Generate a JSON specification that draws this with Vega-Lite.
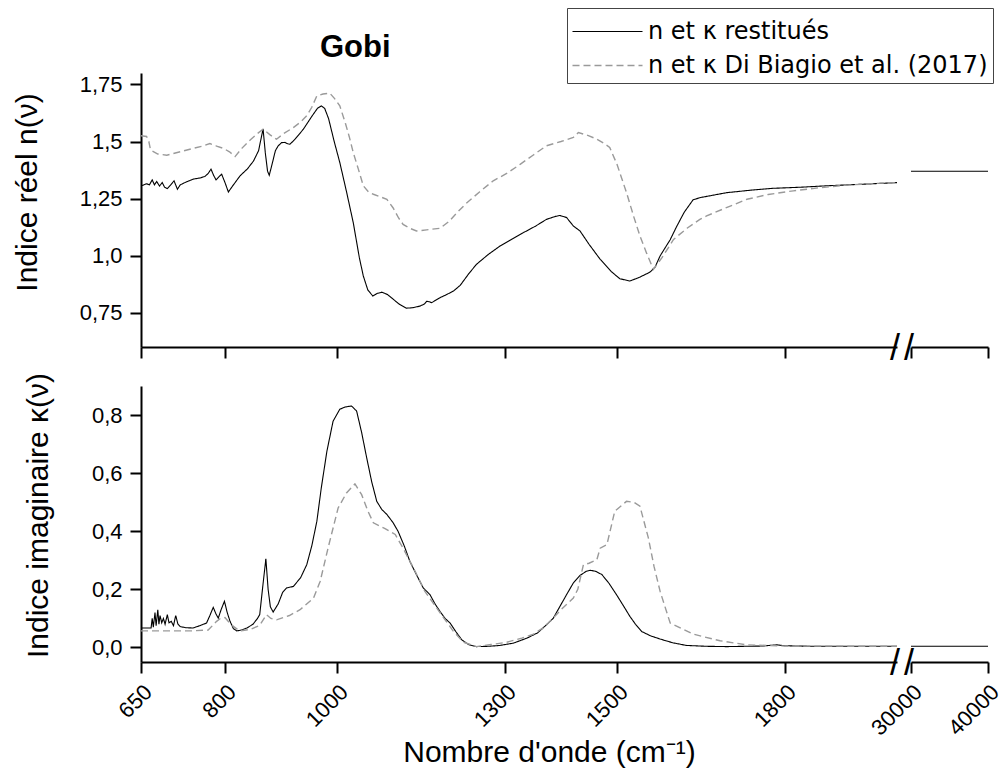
{
  "$schema": "https://vega.github.io/schema/vega-lite/v6.json",
  "padding": {"left": 12, "top": 7, "right": 5, "bottom": 5},
  "background": "white",
  "bounds": "flush",
  "columns": 2,
  "spacing": {"row": 39, "column": 14},
  "datasets": {
    "nLeft": [
      {"x":650,"y":1.306,"s":"n et κ restitués"},{"x":655,"y":1.31,"s":"n et κ restitués"},{"x":660,"y":1.315,"s":"n et κ restitués"},{"x":665,"y":1.31,"s":"n et κ restitués"},{"x":670,"y":1.332,"s":"n et κ restitués"},{"x":674,"y":1.31,"s":"n et κ restitués"},{"x":678,"y":1.325,"s":"n et κ restitués"},{"x":683,"y":1.305,"s":"n et κ restitués"},{"x":688,"y":1.32,"s":"n et κ restitués"},{"x":692,"y":1.3,"s":"n et κ restitués"},{"x":697,"y":1.294,"s":"n et κ restitués"},{"x":703,"y":1.31,"s":"n et κ restitués"},{"x":709,"y":1.328,"s":"n et κ restitués"},{"x":715,"y":1.291,"s":"n et κ restitués"},{"x":720,"y":1.31,"s":"n et κ restitués"},{"x":730,"y":1.322,"s":"n et κ restitués"},{"x":743,"y":1.335,"s":"n et κ restitués"},{"x":755,"y":1.34,"s":"n et κ restitués"},{"x":764,"y":1.347,"s":"n et κ restitués"},{"x":770,"y":1.36,"s":"n et κ restitués"},{"x":775,"y":1.379,"s":"n et κ restitués"},{"x":780,"y":1.35,"s":"n et κ restitués"},{"x":784,"y":1.332,"s":"n et κ restitués"},{"x":789,"y":1.345,"s":"n et κ restitués"},{"x":794,"y":1.357,"s":"n et κ restitués"},{"x":800,"y":1.32,"s":"n et κ restitués"},{"x":806,"y":1.279,"s":"n et κ restitués"},{"x":815,"y":1.31,"s":"n et κ restitués"},{"x":827,"y":1.35,"s":"n et κ restitués"},{"x":840,"y":1.38,"s":"n et κ restitués"},{"x":851,"y":1.415,"s":"n et κ restitués"},{"x":860,"y":1.46,"s":"n et κ restitués"},{"x":865,"y":1.52,"s":"n et κ restitués"},{"x":868,"y":1.554,"s":"n et κ restitués"},{"x":872,"y":1.45,"s":"n et κ restitués"},{"x":876,"y":1.37,"s":"n et κ restitués"},{"x":879,"y":1.352,"s":"n et κ restitués"},{"x":884,"y":1.4,"s":"n et κ restitués"},{"x":890,"y":1.46,"s":"n et κ restitués"},{"x":895,"y":1.481,"s":"n et κ restitués"},{"x":901,"y":1.495,"s":"n et κ restitués"},{"x":907,"y":1.496,"s":"n et κ restitués"},{"x":912,"y":1.49,"s":"n et κ restitués"},{"x":916,"y":1.488,"s":"n et κ restitués"},{"x":925,"y":1.51,"s":"n et κ restitués"},{"x":940,"y":1.554,"s":"n et κ restitués"},{"x":955,"y":1.61,"s":"n et κ restitués"},{"x":965,"y":1.645,"s":"n et κ restitués"},{"x":972,"y":1.656,"s":"n et κ restitués"},{"x":978,"y":1.645,"s":"n et κ restitués"},{"x":985,"y":1.6,"s":"n et κ restitués"},{"x":995,"y":1.5,"s":"n et κ restitués"},{"x":1005,"y":1.408,"s":"n et κ restitués"},{"x":1017,"y":1.28,"s":"n et κ restitués"},{"x":1029,"y":1.145,"s":"n et κ restitués"},{"x":1040,"y":0.99,"s":"n et κ restitués"},{"x":1047,"y":0.911,"s":"n et κ restitués"},{"x":1055,"y":0.85,"s":"n et κ restitués"},{"x":1064,"y":0.823,"s":"n et κ restitués"},{"x":1072,"y":0.835,"s":"n et κ restitués"},{"x":1080,"y":0.84,"s":"n et κ restitués"},{"x":1090,"y":0.83,"s":"n et κ restitués"},{"x":1101,"y":0.808,"s":"n et κ restitués"},{"x":1112,"y":0.786,"s":"n et κ restitués"},{"x":1124,"y":0.77,"s":"n et κ restitués"},{"x":1135,"y":0.772,"s":"n et κ restitués"},{"x":1148,"y":0.779,"s":"n et κ restitués"},{"x":1156,"y":0.788,"s":"n et κ restitués"},{"x":1160,"y":0.8,"s":"n et κ restitués"},{"x":1165,"y":0.798,"s":"n et κ restitués"},{"x":1169,"y":0.794,"s":"n et κ restitués"},{"x":1184,"y":0.816,"s":"n et κ restitués"},{"x":1196,"y":0.83,"s":"n et κ restitués"},{"x":1208,"y":0.845,"s":"n et κ restitués"},{"x":1220,"y":0.87,"s":"n et κ restitués"},{"x":1235,"y":0.92,"s":"n et κ restitués"},{"x":1249,"y":0.962,"s":"n et κ restitués"},{"x":1270,"y":1.005,"s":"n et κ restitués"},{"x":1291,"y":1.042,"s":"n et κ restitués"},{"x":1312,"y":1.072,"s":"n et κ restitués"},{"x":1333,"y":1.101,"s":"n et κ restitués"},{"x":1355,"y":1.13,"s":"n et κ restitués"},{"x":1374,"y":1.159,"s":"n et κ restitués"},{"x":1390,"y":1.172,"s":"n et κ restitués"},{"x":1398,"y":1.176,"s":"n et κ restitués"},{"x":1410,"y":1.167,"s":"n et κ restitués"},{"x":1422,"y":1.13,"s":"n et κ restitués"},{"x":1434,"y":1.108,"s":"n et κ restitués"},{"x":1450,"y":1.05,"s":"n et κ restitués"},{"x":1470,"y":0.984,"s":"n et κ restitués"},{"x":1490,"y":0.93,"s":"n et κ restitués"},{"x":1505,"y":0.899,"s":"n et κ restitués"},{"x":1523,"y":0.889,"s":"n et κ restitués"},{"x":1540,"y":0.905,"s":"n et κ restitués"},{"x":1559,"y":0.928,"s":"n et κ restitués"},{"x":1568,"y":0.95,"s":"n et κ restitués"},{"x":1577,"y":0.999,"s":"n et κ restitués"},{"x":1595,"y":1.07,"s":"n et κ restitués"},{"x":1607,"y":1.13,"s":"n et κ restitués"},{"x":1620,"y":1.19,"s":"n et κ restitués"},{"x":1636,"y":1.245,"s":"n et κ restitués"},{"x":1650,"y":1.255,"s":"n et κ restitués"},{"x":1696,"y":1.276,"s":"n et κ restitués"},{"x":1740,"y":1.287,"s":"n et κ restitués"},{"x":1779,"y":1.295,"s":"n et κ restitués"},{"x":1830,"y":1.3,"s":"n et κ restitués"},{"x":1874,"y":1.306,"s":"n et κ restitués"},{"x":1940,"y":1.313,"s":"n et κ restitués"},{"x":2000,"y":1.32,"s":"n et κ restitués"},
      {"x":650,"y":1.525,"s":"n et κ Di Biagio et al. (2017)"},{"x":660,"y":1.522,"s":"n et κ Di Biagio et al. (2017)"},{"x":664,"y":1.5,"s":"n et κ Di Biagio et al. (2017)"},{"x":667,"y":1.463,"s":"n et κ Di Biagio et al. (2017)"},{"x":680,"y":1.445,"s":"n et κ Di Biagio et al. (2017)"},{"x":696,"y":1.44,"s":"n et κ Di Biagio et al. (2017)"},{"x":720,"y":1.455,"s":"n et κ Di Biagio et al. (2017)"},{"x":743,"y":1.47,"s":"n et κ Di Biagio et al. (2017)"},{"x":760,"y":1.48,"s":"n et κ Di Biagio et al. (2017)"},{"x":773,"y":1.491,"s":"n et κ Di Biagio et al. (2017)"},{"x":785,"y":1.48,"s":"n et κ Di Biagio et al. (2017)"},{"x":797,"y":1.47,"s":"n et κ Di Biagio et al. (2017)"},{"x":808,"y":1.455,"s":"n et κ Di Biagio et al. (2017)"},{"x":818,"y":1.434,"s":"n et κ Di Biagio et al. (2017)"},{"x":830,"y":1.47,"s":"n et κ Di Biagio et al. (2017)"},{"x":845,"y":1.507,"s":"n et κ Di Biagio et al. (2017)"},{"x":858,"y":1.535,"s":"n et κ Di Biagio et al. (2017)"},{"x":868,"y":1.554,"s":"n et κ Di Biagio et al. (2017)"},{"x":880,"y":1.53,"s":"n et κ Di Biagio et al. (2017)"},{"x":892,"y":1.51,"s":"n et κ Di Biagio et al. (2017)"},{"x":905,"y":1.535,"s":"n et κ Di Biagio et al. (2017)"},{"x":922,"y":1.561,"s":"n et κ Di Biagio et al. (2017)"},{"x":935,"y":1.585,"s":"n et κ Di Biagio et al. (2017)"},{"x":946,"y":1.613,"s":"n et κ Di Biagio et al. (2017)"},{"x":955,"y":1.65,"s":"n et κ Di Biagio et al. (2017)"},{"x":964,"y":1.7,"s":"n et κ Di Biagio et al. (2017)"},{"x":975,"y":1.708,"s":"n et κ Di Biagio et al. (2017)"},{"x":987,"y":1.712,"s":"n et κ Di Biagio et al. (2017)"},{"x":995,"y":1.69,"s":"n et κ Di Biagio et al. (2017)"},{"x":1005,"y":1.656,"s":"n et κ Di Biagio et al. (2017)"},{"x":1015,"y":1.58,"s":"n et κ Di Biagio et al. (2017)"},{"x":1022,"y":1.52,"s":"n et κ Di Biagio et al. (2017)"},{"x":1029,"y":1.452,"s":"n et κ Di Biagio et al. (2017)"},{"x":1038,"y":1.38,"s":"n et κ Di Biagio et al. (2017)"},{"x":1047,"y":1.306,"s":"n et κ Di Biagio et al. (2017)"},{"x":1056,"y":1.28,"s":"n et κ Di Biagio et al. (2017)"},{"x":1065,"y":1.269,"s":"n et κ Di Biagio et al. (2017)"},{"x":1077,"y":1.258,"s":"n et κ Di Biagio et al. (2017)"},{"x":1089,"y":1.247,"s":"n et κ Di Biagio et al. (2017)"},{"x":1100,"y":1.21,"s":"n et κ Di Biagio et al. (2017)"},{"x":1110,"y":1.165,"s":"n et κ Di Biagio et al. (2017)"},{"x":1118,"y":1.137,"s":"n et κ Di Biagio et al. (2017)"},{"x":1130,"y":1.12,"s":"n et κ Di Biagio et al. (2017)"},{"x":1142,"y":1.108,"s":"n et κ Di Biagio et al. (2017)"},{"x":1160,"y":1.113,"s":"n et κ Di Biagio et al. (2017)"},{"x":1184,"y":1.12,"s":"n et κ Di Biagio et al. (2017)"},{"x":1200,"y":1.15,"s":"n et κ Di Biagio et al. (2017)"},{"x":1215,"y":1.19,"s":"n et κ Di Biagio et al. (2017)"},{"x":1232,"y":1.232,"s":"n et κ Di Biagio et al. (2017)"},{"x":1255,"y":1.28,"s":"n et κ Di Biagio et al. (2017)"},{"x":1279,"y":1.328,"s":"n et κ Di Biagio et al. (2017)"},{"x":1303,"y":1.36,"s":"n et κ Di Biagio et al. (2017)"},{"x":1327,"y":1.4,"s":"n et κ Di Biagio et al. (2017)"},{"x":1350,"y":1.44,"s":"n et κ Di Biagio et al. (2017)"},{"x":1374,"y":1.481,"s":"n et κ Di Biagio et al. (2017)"},{"x":1400,"y":1.5,"s":"n et κ Di Biagio et al. (2017)"},{"x":1422,"y":1.518,"s":"n et κ Di Biagio et al. (2017)"},{"x":1431,"y":1.539,"s":"n et κ Di Biagio et al. (2017)"},{"x":1450,"y":1.525,"s":"n et κ Di Biagio et al. (2017)"},{"x":1464,"y":1.51,"s":"n et κ Di Biagio et al. (2017)"},{"x":1478,"y":1.49,"s":"n et κ Di Biagio et al. (2017)"},{"x":1487,"y":1.474,"s":"n et κ Di Biagio et al. (2017)"},{"x":1500,"y":1.4,"s":"n et κ Di Biagio et al. (2017)"},{"x":1517,"y":1.276,"s":"n et κ Di Biagio et al. (2017)"},{"x":1530,"y":1.17,"s":"n et κ Di Biagio et al. (2017)"},{"x":1541,"y":1.086,"s":"n et κ Di Biagio et al. (2017)"},{"x":1553,"y":1.01,"s":"n et κ Di Biagio et al. (2017)"},{"x":1565,"y":0.94,"s":"n et κ Di Biagio et al. (2017)"},{"x":1580,"y":0.99,"s":"n et κ Di Biagio et al. (2017)"},{"x":1601,"y":1.071,"s":"n et κ Di Biagio et al. (2017)"},{"x":1625,"y":1.12,"s":"n et κ Di Biagio et al. (2017)"},{"x":1648,"y":1.159,"s":"n et κ Di Biagio et al. (2017)"},{"x":1660,"y":1.174,"s":"n et κ Di Biagio et al. (2017)"},{"x":1700,"y":1.215,"s":"n et κ Di Biagio et al. (2017)"},{"x":1732,"y":1.247,"s":"n et κ Di Biagio et al. (2017)"},{"x":1770,"y":1.268,"s":"n et κ Di Biagio et al. (2017)"},{"x":1815,"y":1.284,"s":"n et κ Di Biagio et al. (2017)"},{"x":1860,"y":1.297,"s":"n et κ Di Biagio et al. (2017)"},{"x":1910,"y":1.309,"s":"n et κ Di Biagio et al. (2017)"},{"x":1960,"y":1.316,"s":"n et κ Di Biagio et al. (2017)"},{"x":2000,"y":1.32,"s":"n et κ Di Biagio et al. (2017)"}
    ],
    "kLeft": [
      {"x":650,"y":0.067,"s":"n et κ restitués"},{"x":660,"y":0.067,"s":"n et κ restitués"},{"x":668,"y":0.067,"s":"n et κ restitués"},{"x":670,"y":0.1,"s":"n et κ restitués"},{"x":672,"y":0.07,"s":"n et κ restitués"},{"x":675,"y":0.12,"s":"n et κ restitués"},{"x":677,"y":0.075,"s":"n et κ restitués"},{"x":680,"y":0.13,"s":"n et κ restitués"},{"x":682,"y":0.08,"s":"n et κ restitués"},{"x":684,"y":0.11,"s":"n et κ restitués"},{"x":687,"y":0.085,"s":"n et κ restitués"},{"x":690,"y":0.1,"s":"n et κ restitués"},{"x":693,"y":0.08,"s":"n et κ restitués"},{"x":697,"y":0.113,"s":"n et κ restitués"},{"x":700,"y":0.085,"s":"n et κ restitués"},{"x":704,"y":0.09,"s":"n et κ restitués"},{"x":708,"y":0.075,"s":"n et κ restitués"},{"x":712,"y":0.11,"s":"n et κ restitués"},{"x":716,"y":0.08,"s":"n et κ restitués"},{"x":720,"y":0.072,"s":"n et κ restitués"},{"x":730,"y":0.068,"s":"n et κ restitués"},{"x":743,"y":0.067,"s":"n et κ restitués"},{"x":755,"y":0.075,"s":"n et κ restitués"},{"x":767,"y":0.084,"s":"n et κ restitués"},{"x":773,"y":0.11,"s":"n et κ restitués"},{"x":779,"y":0.138,"s":"n et κ restitués"},{"x":784,"y":0.115,"s":"n et κ restitués"},{"x":788,"y":0.101,"s":"n et κ restitués"},{"x":793,"y":0.13,"s":"n et κ restitués"},{"x":799,"y":0.159,"s":"n et κ restitués"},{"x":804,"y":0.12,"s":"n et κ restitués"},{"x":809,"y":0.09,"s":"n et κ restitués"},{"x":815,"y":0.065,"s":"n et κ restitués"},{"x":821,"y":0.057,"s":"n et κ restitués"},{"x":830,"y":0.06,"s":"n et κ restitués"},{"x":839,"y":0.067,"s":"n et κ restitués"},{"x":850,"y":0.08,"s":"n et κ restitués"},{"x":858,"y":0.1,"s":"n et κ restitués"},{"x":862,"y":0.113,"s":"n et κ restitués"},{"x":868,"y":0.22,"s":"n et κ restitués"},{"x":873,"y":0.305,"s":"n et κ restitués"},{"x":877,"y":0.2,"s":"n et κ restitués"},{"x":881,"y":0.14,"s":"n et κ restitués"},{"x":886,"y":0.122,"s":"n et κ restitués"},{"x":895,"y":0.15,"s":"n et κ restitués"},{"x":903,"y":0.19,"s":"n et κ restitués"},{"x":910,"y":0.205,"s":"n et κ restitués"},{"x":922,"y":0.21,"s":"n et κ restitués"},{"x":935,"y":0.24,"s":"n et κ restitués"},{"x":946,"y":0.285,"s":"n et κ restitués"},{"x":955,"y":0.35,"s":"n et κ restitués"},{"x":964,"y":0.434,"s":"n et κ restitués"},{"x":972,"y":0.55,"s":"n et κ restitués"},{"x":982,"y":0.676,"s":"n et κ restitués"},{"x":993,"y":0.779,"s":"n et κ restitués"},{"x":1005,"y":0.82,"s":"n et κ restitués"},{"x":1015,"y":0.828,"s":"n et κ restitués"},{"x":1026,"y":0.831,"s":"n et κ restitués"},{"x":1035,"y":0.814,"s":"n et κ restitués"},{"x":1044,"y":0.74,"s":"n et κ restitués"},{"x":1053,"y":0.653,"s":"n et κ restitués"},{"x":1062,"y":0.57,"s":"n et κ restitués"},{"x":1071,"y":0.503,"s":"n et κ restitués"},{"x":1080,"y":0.475,"s":"n et κ restitués"},{"x":1089,"y":0.458,"s":"n et κ restitués"},{"x":1100,"y":0.43,"s":"n et κ restitués"},{"x":1109,"y":0.4,"s":"n et κ restitués"},{"x":1120,"y":0.35,"s":"n et κ restitués"},{"x":1130,"y":0.297,"s":"n et κ restitués"},{"x":1142,"y":0.25,"s":"n et κ restitués"},{"x":1154,"y":0.205,"s":"n et κ restitués"},{"x":1166,"y":0.182,"s":"n et κ restitués"},{"x":1175,"y":0.15,"s":"n et κ restitués"},{"x":1184,"y":0.124,"s":"n et κ restitués"},{"x":1193,"y":0.1,"s":"n et κ restitués"},{"x":1202,"y":0.084,"s":"n et κ restitués"},{"x":1212,"y":0.055,"s":"n et κ restitués"},{"x":1223,"y":0.026,"s":"n et κ restitués"},{"x":1235,"y":0.01,"s":"n et κ restitués"},{"x":1249,"y":0.003,"s":"n et κ restitués"},{"x":1270,"y":0.004,"s":"n et κ restitués"},{"x":1291,"y":0.007,"s":"n et κ restitués"},{"x":1315,"y":0.015,"s":"n et κ restitués"},{"x":1339,"y":0.032,"s":"n et κ restitués"},{"x":1358,"y":0.05,"s":"n et κ restitués"},{"x":1374,"y":0.078,"s":"n et κ restitués"},{"x":1386,"y":0.1,"s":"n et κ restitués"},{"x":1398,"y":0.141,"s":"n et κ restitués"},{"x":1410,"y":0.182,"s":"n et κ restitués"},{"x":1422,"y":0.222,"s":"n et κ restitués"},{"x":1434,"y":0.248,"s":"n et κ restitués"},{"x":1445,"y":0.262,"s":"n et κ restitués"},{"x":1452,"y":0.266,"s":"n et κ restitués"},{"x":1462,"y":0.262,"s":"n et κ restitués"},{"x":1473,"y":0.251,"s":"n et κ restitués"},{"x":1486,"y":0.22,"s":"n et κ restitués"},{"x":1499,"y":0.182,"s":"n et κ restitués"},{"x":1511,"y":0.145,"s":"n et κ restitués"},{"x":1523,"y":0.107,"s":"n et κ restitués"},{"x":1533,"y":0.08,"s":"n et κ restitués"},{"x":1544,"y":0.055,"s":"n et κ restitués"},{"x":1560,"y":0.04,"s":"n et κ restitués"},{"x":1577,"y":0.029,"s":"n et κ restitués"},{"x":1600,"y":0.016,"s":"n et κ restitués"},{"x":1624,"y":0.007,"s":"n et κ restitués"},{"x":1660,"y":0.004,"s":"n et κ restitués"},{"x":1696,"y":0.003,"s":"n et κ restitués"},{"x":1760,"y":0.005,"s":"n et κ restitués"},{"x":1785,"y":0.009,"s":"n et κ restitués"},{"x":1800,"y":0.006,"s":"n et κ restitués"},{"x":1850,"y":0.004,"s":"n et κ restitués"},{"x":1900,"y":0.004,"s":"n et κ restitués"},{"x":2000,"y":0.004,"s":"n et κ restitués"},
      {"x":650,"y":0.057,"s":"n et κ Di Biagio et al. (2017)"},{"x":700,"y":0.057,"s":"n et κ Di Biagio et al. (2017)"},{"x":740,"y":0.057,"s":"n et κ Di Biagio et al. (2017)"},{"x":770,"y":0.06,"s":"n et κ Di Biagio et al. (2017)"},{"x":785,"y":0.09,"s":"n et κ Di Biagio et al. (2017)"},{"x":792,"y":0.1,"s":"n et κ Di Biagio et al. (2017)"},{"x":800,"y":0.103,"s":"n et κ Di Biagio et al. (2017)"},{"x":810,"y":0.08,"s":"n et κ Di Biagio et al. (2017)"},{"x":826,"y":0.057,"s":"n et κ Di Biagio et al. (2017)"},{"x":845,"y":0.062,"s":"n et κ Di Biagio et al. (2017)"},{"x":862,"y":0.076,"s":"n et κ Di Biagio et al. (2017)"},{"x":874,"y":0.113,"s":"n et κ Di Biagio et al. (2017)"},{"x":882,"y":0.1,"s":"n et κ Di Biagio et al. (2017)"},{"x":892,"y":0.095,"s":"n et κ Di Biagio et al. (2017)"},{"x":915,"y":0.11,"s":"n et κ Di Biagio et al. (2017)"},{"x":934,"y":0.13,"s":"n et κ Di Biagio et al. (2017)"},{"x":958,"y":0.17,"s":"n et κ Di Biagio et al. (2017)"},{"x":970,"y":0.228,"s":"n et κ Di Biagio et al. (2017)"},{"x":984,"y":0.342,"s":"n et κ Di Biagio et al. (2017)"},{"x":1002,"y":0.48,"s":"n et κ Di Biagio et al. (2017)"},{"x":1017,"y":0.532,"s":"n et κ Di Biagio et al. (2017)"},{"x":1032,"y":0.563,"s":"n et κ Di Biagio et al. (2017)"},{"x":1044,"y":0.526,"s":"n et κ Di Biagio et al. (2017)"},{"x":1055,"y":0.47,"s":"n et κ Di Biagio et al. (2017)"},{"x":1065,"y":0.429,"s":"n et κ Di Biagio et al. (2017)"},{"x":1085,"y":0.41,"s":"n et κ Di Biagio et al. (2017)"},{"x":1104,"y":0.389,"s":"n et κ Di Biagio et al. (2017)"},{"x":1118,"y":0.342,"s":"n et κ Di Biagio et al. (2017)"},{"x":1140,"y":0.26,"s":"n et κ Di Biagio et al. (2017)"},{"x":1157,"y":0.193,"s":"n et κ Di Biagio et al. (2017)"},{"x":1178,"y":0.136,"s":"n et κ Di Biagio et al. (2017)"},{"x":1195,"y":0.09,"s":"n et κ Di Biagio et al. (2017)"},{"x":1208,"y":0.055,"s":"n et κ Di Biagio et al. (2017)"},{"x":1226,"y":0.018,"s":"n et κ Di Biagio et al. (2017)"},{"x":1249,"y":0.003,"s":"n et κ Di Biagio et al. (2017)"},{"x":1275,"y":0.01,"s":"n et κ Di Biagio et al. (2017)"},{"x":1303,"y":0.018,"s":"n et κ Di Biagio et al. (2017)"},{"x":1330,"y":0.032,"s":"n et κ Di Biagio et al. (2017)"},{"x":1351,"y":0.046,"s":"n et κ Di Biagio et al. (2017)"},{"x":1370,"y":0.07,"s":"n et κ Di Biagio et al. (2017)"},{"x":1386,"y":0.101,"s":"n et κ Di Biagio et al. (2017)"},{"x":1400,"y":0.13,"s":"n et κ Di Biagio et al. (2017)"},{"x":1422,"y":0.17,"s":"n et κ Di Biagio et al. (2017)"},{"x":1430,"y":0.2,"s":"n et κ Di Biagio et al. (2017)"},{"x":1440,"y":0.285,"s":"n et κ Di Biagio et al. (2017)"},{"x":1450,"y":0.29,"s":"n et κ Di Biagio et al. (2017)"},{"x":1464,"y":0.302,"s":"n et κ Di Biagio et al. (2017)"},{"x":1470,"y":0.342,"s":"n et κ Di Biagio et al. (2017)"},{"x":1482,"y":0.354,"s":"n et κ Di Biagio et al. (2017)"},{"x":1496,"y":0.469,"s":"n et κ Di Biagio et al. (2017)"},{"x":1517,"y":0.503,"s":"n et κ Di Biagio et al. (2017)"},{"x":1530,"y":0.5,"s":"n et κ Di Biagio et al. (2017)"},{"x":1541,"y":0.486,"s":"n et κ Di Biagio et al. (2017)"},{"x":1556,"y":0.377,"s":"n et κ Di Biagio et al. (2017)"},{"x":1566,"y":0.28,"s":"n et κ Di Biagio et al. (2017)"},{"x":1577,"y":0.193,"s":"n et κ Di Biagio et al. (2017)"},{"x":1595,"y":0.084,"s":"n et κ Di Biagio et al. (2017)"},{"x":1636,"y":0.046,"s":"n et κ Di Biagio et al. (2017)"},{"x":1684,"y":0.023,"s":"n et κ Di Biagio et al. (2017)"},{"x":1732,"y":0.009,"s":"n et κ Di Biagio et al. (2017)"},{"x":1800,"y":0.005,"s":"n et κ Di Biagio et al. (2017)"},{"x":2000,"y":0.004,"s":"n et κ Di Biagio et al. (2017)"}
    ],
    "nRight": [
      {"x":30000,"y":1.37,"s":"n et κ restitués"},{"x":40000,"y":1.37,"s":"n et κ restitués"}
    ],
    "kRight": [
      {"x":30000,"y":0.004,"s":"n et κ restitués"},{"x":40000,"y":0.004,"s":"n et κ restitués"}
    ],
    "one": [{}]
  },
  "concat": [
    {
      "width": 756, "height": 274,
      "title": {"text": "Gobi", "anchor": "start", "dx": 308, "offset": 9, "fontSize": 31, "fontWeight": "bold", "font": "Liberation Sans", "color": "#000"},
      "layer": [
        {
          "data": {"name": "nLeft"},
          "mark": {"type": "line", "clip": true},
          "encoding": {
            "x": {"field": "x", "type": "quantitative", "scale": {"domain": [650, 2000], "nice": false, "zero": false},
                  "axis": {"values": [650, 800, 1000, 1300, 1500, 1800], "labels": false, "title": null}},
            "y": {"field": "y", "type": "quantitative", "scale": {"domain": [0.6, 1.8], "nice": false, "zero": false},
                  "axis": {"values": [0.75, 1, 1.25, 1.5, 1.75], "title": "Indice réel n(ν)", "titleX": -99, "titleY": 119, "titleBaseline": "bottom", "titleAngle": -90, "titleAlign": "center",
                           "labelExpr": "replace(format(datum.value, (round(datum.value*100) % 50 == 0) ? '.1f' : '.2f'), '.', ',')"}},
            "color": {"field": "s", "type": "nominal", "scale": {"domain": ["n et κ restitués", "n et κ Di Biagio et al. (2017)"], "range": ["#000000", "#9a9a9a"]}, "legend": {"title": null}},
            "strokeDash": {"field": "s", "type": "nominal", "scale": {"domain": ["n et κ restitués", "n et κ Di Biagio et al. (2017)"], "range": [[1, 0], [7, 4]]}, "legend": {"title": null}},
            "strokeWidth": {"field": "s", "type": "nominal", "scale": {"domain": ["n et κ restitués", "n et κ Di Biagio et al. (2017)"], "range": [1.1, 1.4]}, "legend": null}
          }
        },
        {
          "data": {"name": "one"},
          "mark": {"type": "text", "text": "/", "fontSize": 36, "font": "Liberation Sans", "color": "#000", "baseline": "middle", "align": "center", "dx": -2, "dy": 2, "clip": false},
          "encoding": {"x": {"datum": 2000, "type": "quantitative"}, "y": {"datum": 0.6, "type": "quantitative"}}
        }
      ]
    },
    {
      "width": 77, "height": 274,
      "layer": [
        {
          "data": {"name": "nRight"},
          "mark": {"type": "line", "clip": true},
          "encoding": {
            "x": {"field": "x", "type": "quantitative", "scale": {"domain": [30000, 40000], "nice": false, "zero": false},
                  "axis": {"values": [30000, 40000], "labels": false, "title": null}},
            "y": {"field": "y", "type": "quantitative", "scale": {"domain": [0.6, 1.8], "nice": false, "zero": false}, "axis": null},
            "color": {"field": "s", "type": "nominal", "scale": {"domain": ["n et κ restitués", "n et κ Di Biagio et al. (2017)"], "range": ["#000000", "#9a9a9a"]}, "legend": {"title": null}},
            "strokeDash": {"field": "s", "type": "nominal", "scale": {"domain": ["n et κ restitués", "n et κ Di Biagio et al. (2017)"], "range": [[1, 0], [7, 4]]}, "legend": {"title": null}},
            "strokeWidth": {"field": "s", "type": "nominal", "scale": {"domain": ["n et κ restitués", "n et κ Di Biagio et al. (2017)"], "range": [1.1, 1.4]}, "legend": null}
          }
        },
        {
          "data": {"name": "one"},
          "mark": {"type": "text", "text": "/", "fontSize": 36, "font": "Liberation Sans", "color": "#000", "baseline": "middle", "align": "center", "dx": -2, "dy": 2, "clip": false},
          "encoding": {"x": {"datum": 30000, "type": "quantitative"}, "y": {"datum": 0.6, "type": "quantitative"}}
        }
      ]
    },
    {
      "width": 756, "height": 276,
      "layer": [
        {
          "data": {"name": "kLeft"},
          "mark": {"type": "line", "clip": true},
          "encoding": {
            "x": {"field": "x", "type": "quantitative", "scale": {"domain": [650, 2000], "nice": false, "zero": false},
                  "axis": {"values": [650, 800, 1000, 1300, 1500, 1800], "format": "d", "labelAngle": -45, "labelAlign": "right", "labelBaseline": "top", "labelPadding": 8,
                           "title": "Nombre d'onde (cm⁻¹)", "titleX": 408, "titleY": 99, "titleBaseline": "alphabetic", "titleAlign": "center"}},
            "y": {"field": "y", "type": "quantitative", "scale": {"domain": [-0.05, 0.9], "nice": false, "zero": false},
                  "axis": {"values": [0, 0.1, 0.2, 0.3, 0.4, 0.5, 0.6, 0.7, 0.8], "title": "Indice imaginaire κ(ν)", "titleX": -88, "titleY": 129, "titleBaseline": "bottom", "titleAngle": -90, "titleAlign": "center",
                           "tickSize": {"condition": {"test": "round(datum.value*10) % 2 == 1", "value": 5}, "value": 11},
                           "labelExpr": "round(datum.value*10) % 2 == 1 ? '' : replace(format(datum.value, '.1f'), '.', ',')"}},
            "color": {"field": "s", "type": "nominal", "scale": {"domain": ["n et κ restitués", "n et κ Di Biagio et al. (2017)"], "range": ["#000000", "#9a9a9a"]}, "legend": {"title": null}},
            "strokeDash": {"field": "s", "type": "nominal", "scale": {"domain": ["n et κ restitués", "n et κ Di Biagio et al. (2017)"], "range": [[1, 0], [7, 4]]}, "legend": {"title": null}},
            "strokeWidth": {"field": "s", "type": "nominal", "scale": {"domain": ["n et κ restitués", "n et κ Di Biagio et al. (2017)"], "range": [1.1, 1.4]}, "legend": null}
          }
        },
        {
          "data": {"name": "one"},
          "mark": {"type": "text", "text": "/", "fontSize": 36, "font": "Liberation Sans", "color": "#000", "baseline": "middle", "align": "center", "dx": -2, "dy": 2, "clip": false},
          "encoding": {"x": {"datum": 2000, "type": "quantitative"}, "y": {"datum": -0.05, "type": "quantitative"}}
        }
      ]
    },
    {
      "width": 77, "height": 276,
      "layer": [
        {
          "data": {"name": "kRight"},
          "mark": {"type": "line", "clip": true},
          "encoding": {
            "x": {"field": "x", "type": "quantitative", "scale": {"domain": [30000, 40000], "nice": false, "zero": false},
                  "axis": {"values": [30000, 40000], "format": "d", "labelAngle": -45, "labelAlign": "right", "labelBaseline": "top", "labelPadding": 8, "title": null}},
            "y": {"field": "y", "type": "quantitative", "scale": {"domain": [-0.05, 0.9], "nice": false, "zero": false}, "axis": null},
            "color": {"field": "s", "type": "nominal", "scale": {"domain": ["n et κ restitués", "n et κ Di Biagio et al. (2017)"], "range": ["#000000", "#9a9a9a"]}, "legend": {"title": null}},
            "strokeDash": {"field": "s", "type": "nominal", "scale": {"domain": ["n et κ restitués", "n et κ Di Biagio et al. (2017)"], "range": [[1, 0], [7, 4]]}, "legend": {"title": null}},
            "strokeWidth": {"field": "s", "type": "nominal", "scale": {"domain": ["n et κ restitués", "n et κ Di Biagio et al. (2017)"], "range": [1.1, 1.4]}, "legend": null}
          }
        },
        {
          "data": {"name": "one"},
          "mark": {"type": "text", "text": "/", "fontSize": 36, "font": "Liberation Sans", "color": "#000", "baseline": "middle", "align": "center", "dx": -2, "dy": 2, "clip": false},
          "encoding": {"x": {"datum": 30000, "type": "quantitative"}, "y": {"datum": -0.05, "type": "quantitative"}}
        }
      ]
    }
  ],
  "config": {
    "view": {"stroke": null},
    "font": "Liberation Sans",
    "axis": {
      "grid": false, "domainColor": "#000", "domainWidth": 2, "tickColor": "#000", "tickWidth": 2, "tickSize": 11,
      "labelColor": "#000", "labelFont": "Liberation Sans", "labelFontSize": 22, "labelPadding": 8,
      "titleColor": "#000", "titleFont": "Liberation Sans", "titleFontSize": 30, "titleFontWeight": "normal",
      "labelOverlap": false, "labelFlush": false
    },
    "legend": {
      "orient": "none", "legendX": 426, "legendY": -65, "direction": "vertical",
      "strokeColor": "#444", "padding": 5, "fillColor": "white",
      "symbolType": "M-2,0H2", "symbolSize": 1225, "symbolOffset": 17, "symbolStrokeWidth": 1.2,
      "labelFont": "DejaVu Sans", "labelFontSize": 24, "labelColor": "#000", "labelOffset": 22, "rowPadding": 3, "labelLimit": 400
    }
  }
}
